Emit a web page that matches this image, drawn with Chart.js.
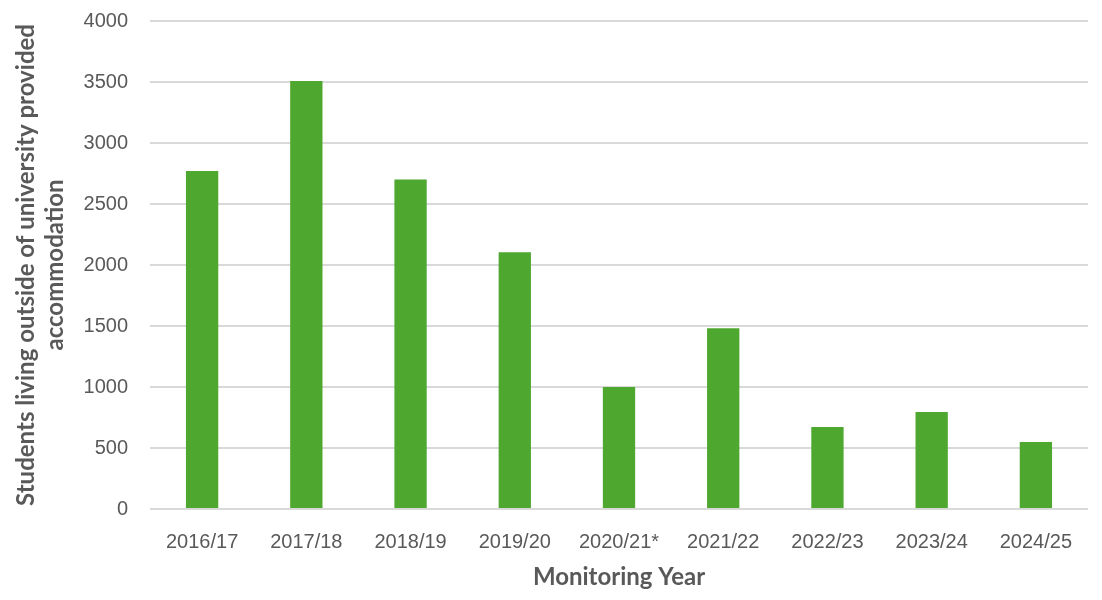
<!DOCTYPE html>
<html lang="en">
<head>
    <meta charset="UTF-8">
    <title>Students living outside of university provided accommodation</title>
    <script src="https://cdn.jsdelivr.net/npm/chart.js"></script>
    <style>
        html, body {
            margin: 0;
            padding: 0;
            background: #ffffff;
        }
        .wrap {
            width: 1102px;
            height: 600px;
        }
    </style>
</head>
<body>
    <div class="wrap">
        <canvas id="studentsChart" width="1102" height="600"></canvas>
    </div>

    <script>
        const years = ['2016/17', '2017/18', '2018/19', '2019/20', '2020/21*', '2021/22', '2022/23', '2023/24', '2024/25'];
        const students = [2770, 3508, 2700, 2105, 1000, 1482, 673, 796, 550];
        const yTicks = [0, 500, 1000, 1500, 2000, 2500, 3000, 3500, 4000];

        const grey = '#595959';

        const ctx = document.getElementById('studentsChart').getContext('2d');
        new Chart(ctx, {
            type: 'bar',
            data: {
                labels: years,
                datasets: [{
                    data: students,
                    backgroundColor: '#4ea72e',
                    barPercentage: 0.31,
                    categoryPercentage: 1
                }]
            },
            options: {
                responsive: false,
                animation: false,
                layout: { padding: { left: 8, right: 14, top: 0, bottom: 4 } },
                plugins: {
                    legend: { display: false },
                    tooltip: { enabled: false }
                },
                scales: {
                    x: {
                        grid: { display: false },
                        border: { display: false },
                        ticks: {
                            color: grey,
                            font: { family: 'Liberation Sans', size: 20 },
                            padding: 13,
                            maxRotation: 0
                        },
                        title: {
                            display: true,
                            text: 'Monitoring Year',
                            color: grey,
                            font: { family: 'Lato', size: 24, weight: 'bold' },
                            padding: { top: 12 }
                        },
                        afterFit: (scale) => { scale.height = 87; }
                    },
                    y: {
                        min: 0,
                        max: 4000,
                        afterBuildTicks: (scale) => {
                            scale.ticks = yTicks.map(v => ({ value: v }));
                        },
                        grid: {
                            color: '#d9d9d9',
                            lineWidth: 2,
                            drawTicks: false
                        },
                        border: { display: false },
                        ticks: {
                            color: grey,
                            font: { family: 'Liberation Sans', size: 20 },
                            padding: 22,
                            callback: (v) => String(v)
                        },
                        title: {
                            display: true,
                            text: ['Students living outside of university provided', 'accommodation'],
                            color: grey,
                            font: { family: 'Lato', size: 24, weight: 'bold', lineHeight: 1.2 },
                            padding: { bottom: 6 }
                        },
                        afterFit: (scale) => {
                            scale.width = 142;
                            scale.paddingTop = 21;
                        }
                    }
                }
            }
        });
    </script>
</body>
</html>
